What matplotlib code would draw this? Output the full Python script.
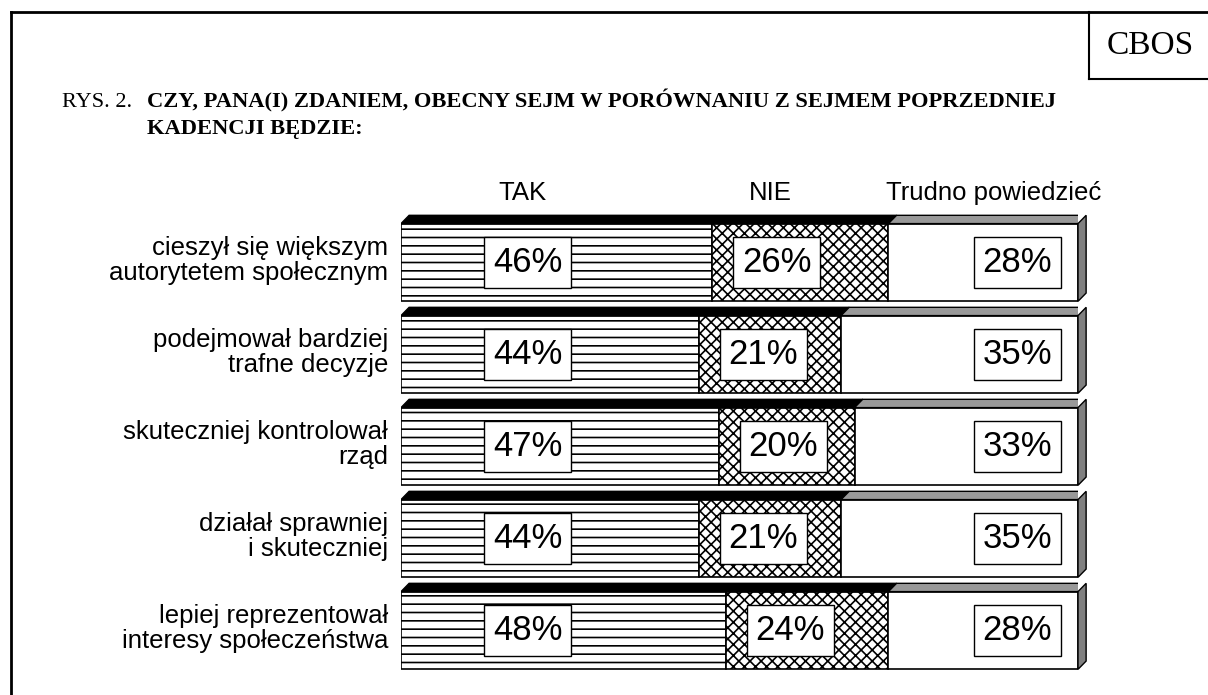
import matplotlib.pyplot as plt
from matplotlib.patches import Polygon
from matplotlib.lines import Line2D

categories = [
    "cieszył się większym\nautorytetem społecznym",
    "podejmował bardziej\ntrafne decyzje",
    "skuteczniej kontrolował\nrząd",
    "działał sprawniej\ni skuteczniej",
    "lepiej reprezentował\ninteresy społeczeństwa",
]
tak = [46, 44, 47, 44, 48]
nie = [26, 21, 20, 21, 24]
trudno = [28, 35, 33, 35, 28]
series_names = ["TAK", "NIE", "Trudno powiedzieć"]

plt.rcParams["font.family"] = ["Liberation Sans", "DejaVu Sans"]
plt.rcParams["hatch.linewidth"] = 1.2

W, H = 1208, 695
fig = plt.figure(figsize=(W / 100, H / 100), dpi=100)

# axes placed so that 0..100 % spans the bar faces
ax = fig.add_axes([401 / W, 1 - 690 / H, 677 / W, 520 / H])
ax.set_xlim(0, 100)
ax.set_ylim(4.647, -1.005)
ax.axis("off")

bar_h = 0.845
dx, dy = 1.2, 0.09  # depth of the 3D edge
y = list(range(len(categories)))

ax.barh(y, tak, height=bar_h, color="white", edgecolor="black",
        hatch="--", linewidth=1.2)
ax.barh(y, nie, left=tak, height=bar_h, color="white", edgecolor="black",
        hatch="xxx", linewidth=1.2)
left3 = [a + b for a, b in zip(tak, nie)]
ax.barh(y, trudno, left=left3, height=bar_h, color="white",
        edgecolor="black", linewidth=1.2)

box = dict(boxstyle="square,pad=0.25", facecolor="white", edgecolor="black", lw=1)
for i in y:
    top = i - bar_h / 2
    bot = i + bar_h / 2
    end1 = tak[i] + nie[i]
    end2 = end1 + trudno[i]
    # top strip: black over TAK+NIE, grey over the rest
    ax.add_patch(Polygon([(0, top), (dx, top - dy), (end1 + dx, top - dy), (end1, top)],
                         closed=True, facecolor="black", edgecolor="black", lw=1))
    ax.add_patch(Polygon([(end1, top), (end1 + dx, top - dy), (end2 + dx, top - dy), (end2, top)],
                         closed=True, facecolor="#999999", edgecolor="black", lw=1))
    # right side
    ax.add_patch(Polygon([(end2, top), (end2 + dx, top - dy), (end2 + dx, bot - dy), (end2, bot)],
                         closed=True, facecolor="#808080", edgecolor="black", lw=1,
                         clip_on=False))

    ax.text(18.7, i, f"{tak[i]}%", ha="center", va="center",
            fontsize=25, bbox=box)
    ax.text(tak[i] + 9.5, i, f"{nie[i]}%", ha="center", va="center",
            fontsize=25, bbox=box)
    ax.text(91, i, f"{trudno[i]}%", ha="center", va="center",
            fontsize=25, bbox=box)
    ax.text(-1.9, i - 0.02, categories[i], ha="right", va="center", fontsize=18.5,
            linespacing=1.05, clip_on=False)

for name, xpos in zip(series_names, [17.9, 54.5, 87.6]):
    ax.text(xpos, -0.76, name, ha="center", va="center", fontsize=18.5)

# outer frame and CBOS box
fig.add_artist(Line2D([11 / W, 11 / W], [0, 1 - 12 / H], color="black", lw=2))
fig.add_artist(Line2D([11 / W, 1], [1 - 12 / H, 1 - 12 / H], color="black", lw=2))
fig.add_artist(Line2D([1089 / W, 1089 / W], [1 - 12 / H, 1 - 79 / H], color="black", lw=1.5))
fig.add_artist(Line2D([1089 / W, 1], [1 - 79 / H, 1 - 79 / H], color="black", lw=1.5))
fig.text(1150 / W, 1 - 46 / H, "CBOS", ha="center", va="center",
         fontsize=24, family="Liberation Serif")

fig.text(62 / W, 1 - 107 / H, "RYS. 2.", ha="left", va="baseline",
         fontsize=16, family="Liberation Serif")
fig.text(147 / W, 1 - 107 / H,
         "CZY, PANA(I) ZDANIEM, OBECNY SEJM W PORÓWNANIU Z SEJMEM POPRZEDNIEJ",
         ha="left", va="baseline", fontsize=16.2, family="Liberation Serif",
         weight="bold")
fig.text(147 / W, 1 - 134 / H, "KADENCJI BĘDZIE:", ha="left", va="baseline",
         fontsize=16.2, family="Liberation Serif", weight="bold")

fig.savefig("out.png", dpi=100)
